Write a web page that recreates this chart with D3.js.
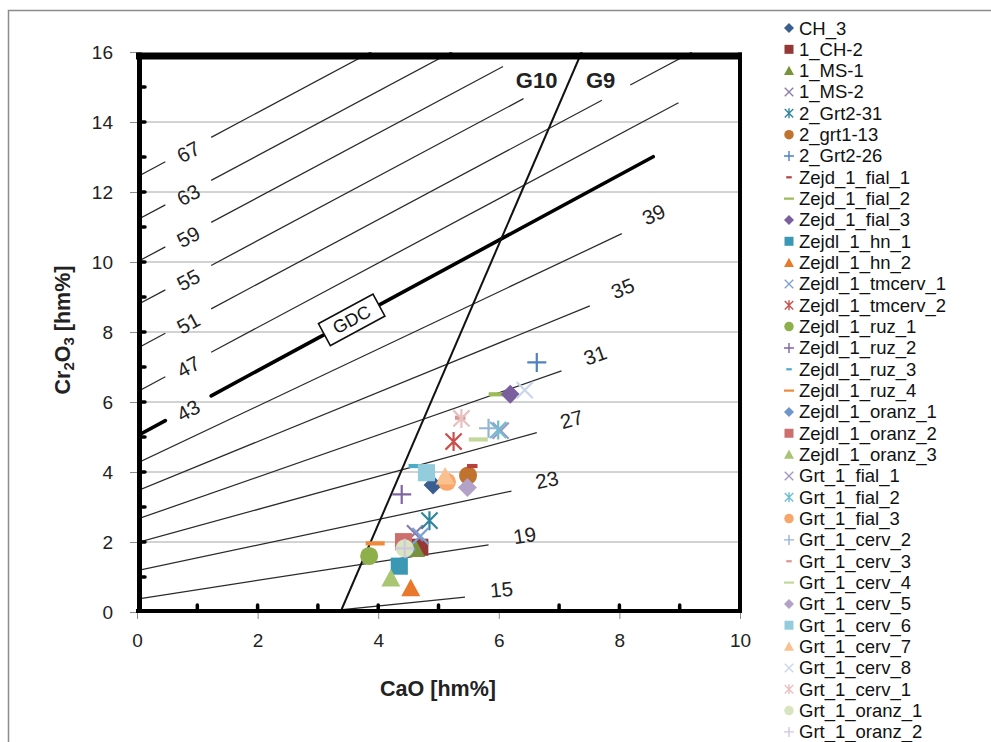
<!DOCTYPE html>
<html><head><meta charset="utf-8">
<script src="https://cdn.jsdelivr.net/npm/d3@7"></script>
<style>
body{margin:0;background:#fff;}
svg{display:block;font-family:"Liberation Sans",Arial,sans-serif;}
</style>
</head><body>
<svg id="c" width="991" height="742"></svg>
<script>
// ---------------- DATA ----------------
const seriesNames = ["CH_3","1_CH-2","1_MS-1","1_MS-2","2_Grt2-31","2_grt1-13","2_Grt2-26",
 "Zejd_1_fial_1","Zejd_1_fial_2","Zejd_1_fial_3","Zejdl_1_hn_1","Zejdl_1_hn_2","Zejdl_1_tmcerv_1",
 "Zejdl_1_tmcerv_2","Zejdl_1_ruz_1","Zejdl_1_ruz_2","Zejdl_1_ruz_3","Zejdl_1_ruz_4","Zejdl_1_oranz_1",
 "Zejdl_1_oranz_2","Zejdl_1_oranz_3","Grt_1_fial_1","Grt_1_fial_2","Grt_1_fial_3","Grt_1_cerv_2",
 "Grt_1_cerv_3","Grt_1_cerv_4","Grt_1_cerv_5","Grt_1_cerv_6","Grt_1_cerv_7","Grt_1_cerv_8",
 "Grt_1_cerv_1","Grt_1_oranz_1","Grt_1_oranz_2"];
const seriesColors = ["#3B5E91","#953735","#77933C","#8A7BAE","#31859C","#C0722F","#4F81BD",
 "#B8403D","#9BBB59","#7B5E9E","#3A98B4","#E8792C","#7DA0D0",
 "#C8504D","#8DB04A","#8064A2","#4BACC6","#F08A3C","#6F95CD",
 "#CD6F6C","#A9C574","#A394C4","#6FBDD1","#F9A66A","#95B3D7",
 "#DA9694","#C3D69B","#B3A2C7","#93CDDD","#FAC090","#C9D6EA",
 "#E8C0BF","#D7E4BD","#D0C6E0"];
const markerCycle = ["diamond","square","triangle","x","asterisk","circle","plus","dash","longdash"];
// one point per series: CaO, Cr2O3 (hm%)
const seriesCaO = [4.91,4.69,4.62,4.61,4.85,5.49,6.63,5.56,5.99,6.19,4.35,4.54,4.70,
 5.25,3.85,4.39,4.59,3.95,4.47,4.42,4.21,6.03,5.99,5.14,5.83,5.36,5.66,5.48,4.80,5.11,6.43,5.38,4.44,4.44];
const seriesCr2O3 = [3.63,1.85,1.80,2.25,2.61,3.90,7.13,4.17,6.22,6.22,1.31,0.68,2.17,
 4.87,1.60,3.36,4.17,1.96,1.78,2.01,0.96,5.18,5.20,3.72,5.25,5.55,4.93,3.56,3.98,3.87,6.34,5.53,1.82,1.82];

// isobar lines: Cr2O3 = intercept + slope * CaO, drawn over the given CaO ranges
const isoLabels     = ["15","19","23","27","31","35","39","43","47","51","55","59","63","67"];
const isoIntercepts = [-0.54,0.37,1.18,1.98,2.65,3.46,4.25,5.03,6.29,7.53,8.77,10.0,11.2,12.43];
const isoSlopes     = [0.178,0.266,0.366,0.474,0.602,0.704,0.816,0.932,0.92,0.92,0.92,0.92,0.92,0.92];
const isoRanges     = [[[3.0,5.44]],[[0,5.83]],[[0,6.21]],[[0,6.63]],[[0,7.04]],[[0,7.51]],[[0,8.04]],
 [[0,0.47],[1.23,8.56]],[[0,0.47],[1.23,8.98]],[[0,0.47],[1.23,7.71],[8.18,9.2]],[[0,0.47],[1.23,6.41]],
 [[0,0.47],[1.23,6.07]],[[0,0.47],[1.23,5.4]],[[0,0.47],[1.23,4.0]]];
const isoLabelAtLeft = [false,false,false,false,false,false,false,true,true,true,true,true,true,true];
const gdcIndex = 7;          // the 43 isobar is the GDC line
const gdcBoxCaO = 3.56;
// G10 / G9 boundary: CaO = 3.375 + 0.25 * Cr2O3
const g10Intercept = 3.375, g10Slope = 0.25;

const xTicks = [0,2,4,6,8,10];
const yTicks = [0,2,4,6,8,10,12,14,16];
const yGrid  = [2,4,6,8,10,12,14];
const yMinor = [1,2,3,4,5,6,7,8,9,10,11,12,13,14,15];
const xMinor = [1,2,3,4,5,7,8,9];

// ---------------- CHART ----------------
const svg = d3.select("#c");
const FONT = '"Liberation Sans",Arial,sans-serif';
const xS = d3.scaleLinear().domain([0,10]).range([137,740]);
const yS = d3.scaleLinear().domain([0,16]).range([612,52]);

// outer frame
svg.append("rect").attr("x",8.5).attr("y",10.5).attr("width",990).attr("height",740)
  .attr("fill","#fff").attr("stroke","#8c8c8c").attr("stroke-width",1.5);

svg.append("clipPath").attr("id","plotclip").append("rect")
  .attr("x",xS(0)).attr("y",yS(16)).attr("width",xS(10)-xS(0)).attr("height",yS(0)-yS(16));

// gridlines
svg.append("g").selectAll("line").data(yGrid).join("line")
  .attr("x1",xS(0)).attr("x2",xS(10)).attr("y1",d=>yS(d)).attr("y2",d=>yS(d))
  .attr("stroke","#a6a6a6").attr("stroke-width",1);

// axes
const yAxis = svg.append("g").attr("transform",`translate(${xS(0)},0)`)
  .call(d3.axisLeft(yS).tickValues(yTicks).tickSize(7).tickPadding(17).tickFormat(d3.format("d")));
const xAxis = svg.append("g").attr("transform",`translate(0,${yS(0)})`)
  .call(d3.axisBottom(xS).tickValues(xTicks).tickSize(7).tickPadding(15).tickFormat(d3.format("d")));
[yAxis,xAxis].forEach(a=>{
  a.select(".domain").remove();
  a.selectAll(".tick line").attr("stroke","#8c8c8c");
  a.selectAll(".tick text").attr("font-family",FONT).attr("font-size",19).attr("fill","#222");
});

const plot = svg.append("g").attr("clip-path","url(#plotclip)");

// pixel slope helper
const pxSlope = s => s*(yS(0)-yS(1))/(xS(1)-xS(0));

// isobars
isoLabels.forEach((lab,i)=>{
  const b = isoIntercepts[i], m = isoSlopes[i];
  const isG = i===gdcIndex;
  isoRanges[i].forEach(r=>{
    plot.append("line")
      .attr("x1",xS(r[0])).attr("y1",yS(b+m*r[0]))
      .attr("x2",xS(r[1])).attr("y2",yS(b+m*r[1]))
      .attr("stroke", isG ? "#000" : "#2a2a2a")
      .attr("stroke-width", isG ? 3.6 : 1.25)
      .attr("stroke-linecap", isG ? "round" : "butt");
  });
  const a = Math.atan(pxSlope(m));
  const deg = -a*180/Math.PI;
  let cx, cy;
  if (isoLabelAtLeft[i]) {
    cx = xS(0.85); cy = yS(b+m*0.85)+2;
  } else {
    const xe = isoRanges[i][isoRanges[i].length-1][1];
    const ex = xS(xe), ey = yS(b+m*xe);
    cx = ex + 37*Math.cos(a) - 4*Math.sin(a);
    cy = ey - 37*Math.sin(a) - 4*Math.cos(a);
  }
  svg.append("text").attr("x",0).attr("y",0)
    .attr("transform",`translate(${cx},${cy}) rotate(${deg})`)
    .attr("text-anchor","middle").attr("dominant-baseline","central")
    .attr("font-family",FONT).attr("font-size",20.5).attr("fill","#222").text(lab);
});

// GDC box
{
  const b = isoIntercepts[gdcIndex], m = isoSlopes[gdcIndex];
  const a = Math.atan(pxSlope(m)), deg = -a*180/Math.PI;
  const g = svg.append("g").attr("transform",`translate(${xS(gdcBoxCaO)},${yS(b+m*gdcBoxCaO)}) rotate(${deg})`);
  g.append("rect").attr("x",-31).attr("y",-12.5).attr("width",62).attr("height",25)
    .attr("fill","#fff").attr("stroke","#111").attr("stroke-width",1.6);
  g.append("text").attr("text-anchor","middle").attr("dominant-baseline","central")
    .attr("font-family",FONT).attr("font-size",18).attr("fill","#111").text("GDC");
}

// G10/G9 line
plot.append("line")
  .attr("x1",xS(g10Intercept)).attr("y1",yS(0))
  .attr("x2",xS(g10Intercept+g10Slope*16)).attr("y2",yS(16))
  .attr("stroke","#111").attr("stroke-width",2);
{
  const yl = 15.2, xl = xS(g10Intercept+g10Slope*yl);
  svg.append("text").attr("x",xl-33).attr("y",yS(yl)).attr("text-anchor","middle")
    .attr("dominant-baseline","central").attr("font-family",FONT).attr("font-weight","bold")
    .attr("font-size",22).attr("fill","#222").text("G10");
  svg.append("text").attr("x",xl+31).attr("y",yS(yl)).attr("text-anchor","middle")
    .attr("dominant-baseline","central").attr("font-family",FONT).attr("font-weight","bold")
    .attr("font-size",22).attr("fill","#222").text("G9");
}

// markers
function marker(g, type, color, s, sw){
  if(type==="diamond") g.append("path").attr("d",`M0,${-s}L${s},0L0,${s}L${-s},0Z`).attr("fill",color);
  else if(type==="square") g.append("rect").attr("x",-s*0.9).attr("y",-s*0.9).attr("width",s*1.8).attr("height",s*1.8).attr("fill",color);
  else if(type==="triangle") g.append("path").attr("d",`M0,${-s}L${s},${s*0.85}L${-s},${s*0.85}Z`).attr("fill",color);
  else if(type==="circle") g.append("circle").attr("r",s*0.95).attr("fill",color);
  else if(type==="x") g.append("path").attr("d",`M${-s*0.85},${-s*0.85}L${s*0.85},${s*0.85}M${-s*0.85},${s*0.85}L${s*0.85},${-s*0.85}`).attr("stroke",color).attr("stroke-width",sw).attr("fill","none");
  else if(type==="asterisk") g.append("path").attr("d",`M${-s*0.85},${-s*0.85}L${s*0.85},${s*0.85}M${-s*0.85},${s*0.85}L${s*0.85},${-s*0.85}M0,${-s}L0,${s}`).attr("stroke",color).attr("stroke-width",sw).attr("fill","none");
  else if(type==="plus") g.append("path").attr("d",`M${-s},0L${s},0M0,${-s}L0,${s}`).attr("stroke",color).attr("stroke-width",sw).attr("fill","none");
  else if(type==="dash") g.append("rect").attr("x",-s*0.55).attr("y",-s*0.22).attr("width",s*1.1).attr("height",s*0.44).attr("fill",color);
  else if(type==="longdash") g.append("rect").attr("x",-s).attr("y",-s*0.22).attr("width",s*2).attr("height",s*0.44).attr("fill",color);
}

const pts = plot.append("g");
seriesNames.forEach((n,i)=>{
  const g = pts.append("g").attr("transform",`translate(${xS(seriesCaO[i])},${yS(seriesCr2O3[i])})`);
  marker(g, markerCycle[i%markerCycle.length], seriesColors[i], 9.5, 2.2);
});

// minor nubs (inside axes)
svg.append("g").selectAll("line").data(yMinor).join("line")
  .attr("x1",xS(0)+2).attr("x2",xS(0)+8).attr("y1",d=>yS(d)).attr("y2",d=>yS(d))
  .attr("stroke","#000").attr("stroke-width",3.5).attr("stroke-linecap","round");
svg.append("g").selectAll("line").data(xMinor).join("line")
  .attr("x1",d=>xS(d)).attr("x2",d=>xS(d)).attr("y1",yS(0)-2).attr("y2",yS(0)-7)
  .attr("stroke","#000").attr("stroke-width",3.5).attr("stroke-linecap","round");

// plot frame (thick)
const fr = svg.append("g").attr("stroke","#000");
fr.append("line").attr("x1",xS(0)-1).attr("x2",xS(10)+2).attr("y1",56).attr("y2",56).attr("stroke-width",7);
fr.append("line").attr("x1",xS(0)-1).attr("x2",xS(10)+2).attr("y1",611).attr("y2",611).attr("stroke-width",4);
fr.append("line").attr("x1",139.5).attr("x2",139.5).attr("y1",52.5).attr("y2",613).attr("stroke-width",5);
fr.append("line").attr("x1",740).attr("x2",740).attr("y1",52.5).attr("y2",613).attr("stroke-width",4);

// axis titles
svg.append("text").attr("x",438).attr("y",689).attr("text-anchor","middle").attr("dominant-baseline","central")
  .attr("font-family",FONT).attr("font-weight","bold").attr("font-size",21.5).attr("fill","#222").text("CaO [hm%]");
const yt = svg.append("text").attr("transform","translate(63,330) rotate(-90)").attr("text-anchor","middle")
  .attr("dominant-baseline","central").attr("font-family",FONT).attr("font-weight","bold").attr("font-size",21.5).attr("fill","#222");
yt.append("tspan").text("Cr");
yt.append("tspan").attr("dy",5).attr("font-size",15).text("2");
yt.append("tspan").attr("dy",-5).text("O");
yt.append("tspan").attr("dy",5).attr("font-size",15).text("3");
yt.append("tspan").attr("dy",-5).text(" [hm%]");

// legend
const lg = svg.append("g");
seriesNames.forEach((n,i)=>{
  const y = 28 + i*21.33;
  const g = lg.append("g").attr("transform",`translate(789,${y})`);
  marker(g, markerCycle[i%markerCycle.length], seriesColors[i], 5, 1.4);
  lg.append("text").attr("x",799).attr("y",y).attr("dominant-baseline","central")
    .attr("font-family",FONT).attr("font-size",18.5).attr("fill","#111").text(n);
});
</script>
</body></html>
